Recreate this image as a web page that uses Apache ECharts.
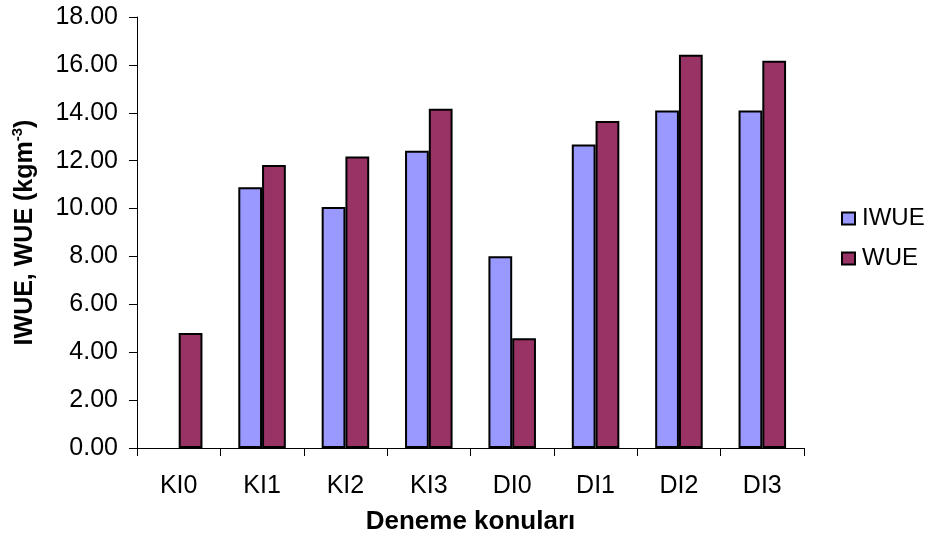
<!DOCTYPE html>
<html>
<head>
<meta charset="utf-8">
<script src="https://cdn.jsdelivr.net/npm/echarts@6/dist/echarts.min.js"></script>
<style>
  html, body { margin: 0; padding: 0; background: #fff; }
  #chart { width: 928px; height: 547px; }
</style>
</head>
<body>
<div id="chart"></div>
<script>
// Treatments (categories) and water use efficiency values
const categories = ['KI0', 'KI1', 'KI2', 'KI3', 'DI0', 'DI1', 'DI2', 'DI3'];
const iwue = [null, 10.89, 10.07, 12.41, 8.01, 12.67, 14.10, 14.10];
const wue = [4.80, 11.82, 12.17, 14.17, 4.58, 13.66, 16.42, 16.17];
const yTicks = { min: 0, max: 18, step: 2 };

const FONT = 'Liberation Sans, Arial, sans-serif';

const chart = echarts.init(document.getElementById('chart'), null, { renderer: 'canvas' });

const barBorder = { borderColor: '#000', borderWidth: 2 };

chart.setOption({
  animation: false,
  backgroundColor: '#fff',
  grid: { left: 137, right: 124, top: 17, bottom: 99, containLabel: false },
  legend: {
    orient: 'vertical',
    left: 836,
    top: 201,
    itemWidth: 13,
    itemHeight: 12,
    itemGap: 15,
    icon: 'rect',
    itemStyle: { borderColor: '#000', borderWidth: 2 },
    textStyle: { fontFamily: FONT, fontSize: 24, color: '#000', lineHeight: 25, padding: [0, 0, 0, 2] },
    data: ['IWUE', 'WUE']
  },
  xAxis: {
    type: 'category',
    data: categories,
    name: 'Deneme konuları',
    nameLocation: 'middle',
    nameGap: 61,
    nameTextStyle: { fontFamily: FONT, fontSize: 26, fontWeight: 'bold', color: '#000' },
    axisLine: { lineStyle: { color: '#000', width: 1 } },
    axisTick: { show: true, length: 8, alignWithLabel: false, lineStyle: { color: '#000' } },
    axisLabel: { fontFamily: FONT, fontSize: 25, color: '#000', margin: 26 },
    splitLine: { show: false }
  },
  yAxis: {
    type: 'value',
    min: yTicks.min,
    max: yTicks.max,
    interval: yTicks.step,
    name: '{t|IWUE, WUE (kgm}{s|-3}{t|)}',
    nameLocation: 'middle',
    nameGap: 97,
    nameRotate: 90,
    nameTextStyle: {
      rich: {
        t: { fontFamily: FONT, fontSize: 25, fontWeight: 'bold', color: '#000', lineHeight: 30 },
        s: { fontFamily: FONT, fontSize: 15, fontWeight: 'bold', color: '#000', lineHeight: 30, verticalAlign: 'top' }
      }
    },
    axisLine: { show: true, lineStyle: { color: '#000', width: 1 } },
    axisTick: { show: true, length: 8, lineStyle: { color: '#000' } },
    axisLabel: {
      fontFamily: FONT, fontSize: 25, color: '#000', margin: 19,
      formatter: v => v.toFixed(2)
    },
    splitLine: { show: false }
  },
  series: [
    {
      name: 'IWUE',
      type: 'bar',
      data: iwue,
      barGap: '0%',
      barCategoryGap: '43%',
      itemStyle: Object.assign({ color: '#9999FF' }, barBorder)
    },
    {
      name: 'WUE',
      type: 'bar',
      data: wue,
      barGap: '0%',
      barCategoryGap: '43%',
      itemStyle: Object.assign({ color: '#993366' }, barBorder)
    }
  ]
});
</script>
</body>
</html>
